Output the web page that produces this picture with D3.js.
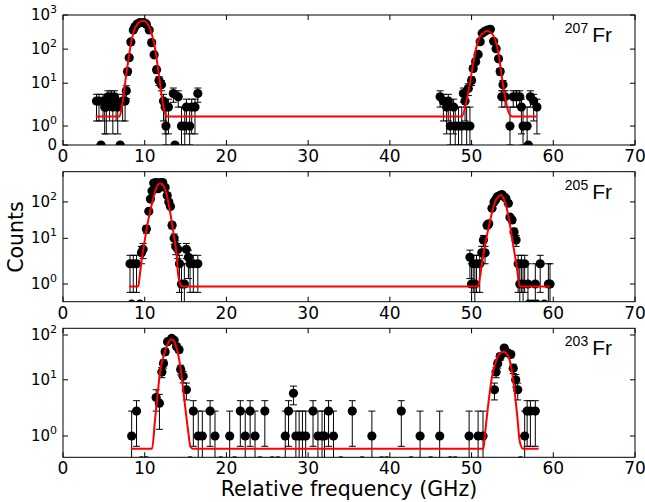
<!DOCTYPE html>
<html>
<head>
<meta charset="utf-8">
<script src="https://cdn.jsdelivr.net/npm/d3@7"></script>
<style>
  body { margin: 0; background: #fff; }
  svg { display: block; }
</style>
</head>
<body>
<svg width="645" height="502"></svg>
<script>
// ---- data (frequency in GHz, counts) ----
var fr207Freq = [4.1,4.4,4.65,4.9,5.1,5.3,5.5,5.7,5.9,6.1,6.3,6.5,6.7,7.0,7.3,7.6,7.75,7.9,8.1,8.3,8.6,8.8,9.05,9.4,9.9,10.2,10.55,10.85,11.15,11.45,11.75,12.05,12.3,12.5,12.6,12.9,13.5,13.7,14.1,14.5,14.9,15.1,15.5,15.75,16.15,16.5,
    46.15,46.55,46.95,47.15,47.4,47.8,48.0,48.4,48.8,49.0,49.2,49.4,49.6,49.8,50.0,50.2,50.5,50.8,51.05,51.3,51.6,51.95,52.3,52.7,53.0,53.3,53.5,53.7,53.85,54.1,54.7,55.1,55.5,55.9,56.1,56.3,56.8,56.95,57.2,57.6,58.0];
var fr207Counts = [3,3,0,3,2,2,4,3,4,2,4,3,2,0,3,3,6,22,56,162,363,450,540,596,600,540,363,155,68,25,12,9,3,2,1,2,5,0,4,1,1,2,1,2,2,5,
    4,3,2,3,1,2,1,1,1,5,3,1,7,1,12,27,43,70,165,292,330,363,380,170,103,52,22,4,9,4,1,4,4,4,2,1,1,0,4,3,2];
var fr207FitFreq = [4.0,6.9,7.2,7.6,8.0,8.4,8.8,9.2,9.6,9.9,10.2,10.6,10.9,11.3,11.7,12.1,12.4,12.8,
    48.8,49.4,49.8,50.2,50.6,51.0,51.4,51.9,52.3,52.9,53.3,53.7,54.1,54.5,55.0,58.0];
var fr207FitCounts = [1.5,1.5,2.0,10,48,184,410,575,660,680,620,420,260,94,20,4,1.8,1.5,
    1.5,3.2,10,38,118,232,292,339,313,184,76,15.5,4,1.76,1.5,1.5];

var fr205Freq = [8.2,8.4,8.6,9.0,9.4,9.6,9.8,10.2,10.5,10.7,10.9,11.1,11.4,11.65,11.9,12.2,12.5,12.75,12.95,13.15,13.35,13.6,13.8,14.05,14.25,14.5,14.85,15.1,15.35,15.55,15.95,16.5,
    49.8,50.0,50.2,50.4,50.6,51.0,51.25,51.45,51.65,51.9,52.1,52.5,52.75,52.95,53.15,53.45,53.7,53.95,54.2,54.5,54.7,54.95,55.2,55.45,55.7,55.9,56.1,56.3,56.5,56.9,57.0,57.5,57.8,58.0,58.4,58.9,59.4,59.6];
var fr205Counts = [2,0,2,2,0,4,5,18,55,120,200,330,340,230,340,340,250,150,100,75,23,10,6,5,2,1,1,5,3,2,2,2,
    3,1,2,1,2,2,4,9,4,23,25,67,100,115,138,150,160,140,126,92,38,32,15,9,2,1,2,1,2,1,0,0,1,0,2,0,1,1];
var fr205FitFreq = [8.1,9.2,9.4,9.6,10.0,10.4,10.85,11.26,11.67,11.87,12.28,12.7,13.1,13.5,13.9,14.1,14.5,14.8,
    50.8,51.0,51.25,51.65,52.06,52.47,52.88,53.3,53.6,53.9,54.3,54.7,55.1,55.5,55.9,56.2,59.6];
var fr205FitCounts = [0.87,0.87,1.44,2.29,8.6,28.9,82,190,306,320,280,153,54,15,3.6,1.44,0.9,0.87,
    0.87,1.28,1.93,6.5,18.8,48,101,138,155,126,67,23,6.5,1.93,0.9,0.87,0.87];

var fr203Freq = [8.4,9.0,9.6,10.2,11.4,11.8,12.1,12.3,12.5,12.8,13.3,13.6,13.9,14.2,14.4,14.7,15.1,15.55,15.95,16.55,17.05,18.0,18.6,19.3,20.4,21.0,21.7,22.3,22.9,23.5,24.1,24.7,25.6,26.3,27.2,27.6,28.2,28.5,28.9,29.3,29.7,30.6,31.2,31.7,32.0,32.5,33.1,34.0,35.4,36.6,37.8,39.0,39.6,41.4,42.6,43.7,45.0,46.1,47.4,48.0,49.7,50.8,51.4,
    52.8,53.0,53.2,53.5,54.0,54.4,54.8,55.1,55.4,55.65,56.0,56.5,56.8,57.2,57.8];
var fr203Counts = [1,2,0,0,4,3,15,23,42,71,84,76,55,47,17,12,6,0,2,1,1,2,1,0,1,0,2,1,2,1,0,2,0,0,1,2,5,1,1,1,1,2,1,1,1,2,1,0,2,0,1,0,0,2,0,1,0,1,0,0,1,1,1,
    6,15,23,33,51,40,37,18,10,6,0,1,2,2,2];
var fr203FitFreq = [8.3,10.9,11.26,11.55,11.9,12.3,12.7,13.2,13.5,13.9,14.3,14.6,14.9,15.3,15.6,15.9,
    51.45,51.65,52.06,52.47,52.9,53.3,53.9,54.4,54.8,55.2,55.6,55.9,56.3,58.2];
var fr203FitCounts = [0.49,0.49,1.65,4.2,16,33,55,80,77,51,23,9,3,1.24,0.57,0.49,
    0.49,1.1,3,10.8,23,36,42,36,21.4,7,1.77,0.77,0.49,0.49];

var xTicks = [0, 10, 20, 30, 40, 50, 60, 70];
var isotopes = ["207", "205", "203"];
var yDomains = [[0, 1000], [0.124, 676], [0.144, 141]];
var yTickValues = [[0, 1, 10, 100, 1000], [1, 10, 100], [1, 10, 100]];

// ---- layout ----
var svg = d3.select("svg");
var left = 63, right = 635;
var panelBox = [[15, 145], [171.7, 301.7], [328.3, 457.3]];

var x = d3.scaleLinear().domain([0, 70]).range([left, right]);

// matplotlib-style symlog (linthresh 2, linscale 1, base 10)
var linthresh = 2, linscaleAdj = 1 / (1 - 1 / 10);
function symlog(v) {
    return v <= linthresh ? v * linscaleAdj
        : linthresh * (linscaleAdj + Math.log10(v / linthresh));
}

var panels = [
    {freq: fr207Freq, counts: fr207Counts, fitFreq: fr207FitFreq, fitCounts: fr207FitCounts},
    {freq: fr205Freq, counts: fr205Counts, fitFreq: fr205FitFreq, fitCounts: fr205FitCounts},
    {freq: fr203Freq, counts: fr203Counts, fitFreq: fr203FitFreq, fitCounts: fr203FitCounts}
];

panels.forEach(function(p, i) {
    var top = panelBox[i][0], bottom = panelBox[i][1];
    var y = d3.scaleLinear()
        .domain([symlog(yDomains[i][0]), symlog(yDomains[i][1])])
        .range([bottom, top]);
    var yv = function(v) { return y(symlog(Math.max(v, 0))); };

    svg.append("clipPath").attr("id", "clip" + i)
        .append("rect")
        .attr("x", left).attr("y", top)
        .attr("width", right - left).attr("height", bottom - top);

    var g = svg.append("g").attr("clip-path", "url(#clip" + i + ")");
    var pts = p.freq.map(function(f, k) { return {f: f, n: p.counts[k]}; });

    // error bars (Poisson)
    var eb = g.append("g").attr("stroke", "#000").attr("stroke-width", 1);
    pts.forEach(function(d) {
        var e = Math.sqrt(d.n), cx = x(d.f);
        var y0 = yv(d.n - e), y1 = yv(d.n + e);
        eb.append("line").attr("x1", cx).attr("x2", cx).attr("y1", y0).attr("y2", y1);
        eb.append("line").attr("x1", cx - 3.5).attr("x2", cx + 3.5).attr("y1", y0).attr("y2", y0);
        eb.append("line").attr("x1", cx - 3.5).attr("x2", cx + 3.5).attr("y1", y1).attr("y2", y1);
    });

    g.selectAll("circle").data(pts).enter().append("circle")
        .attr("cx", function(d) { return x(d.f); })
        .attr("cy", function(d) { return yv(d.n); })
        .attr("r", 4.6)
        .attr("fill", "#000");

    // fit
    var fit = p.fitFreq.map(function(f, k) { return [f, p.fitCounts[k]]; });
    var line = d3.line()
        .x(function(d) { return x(d[0]); })
        .y(function(d) { return yv(d[1]); })
        .curve(d3.curveMonotoneX);
    g.append("path").datum(fit)
        .attr("d", line)
        .attr("fill", "none")
        .attr("stroke", "#ff0000")
        .attr("stroke-width", 2);

    // frame
    svg.append("rect")
        .attr("x", left).attr("y", top)
        .attr("width", right - left).attr("height", bottom - top)
        .attr("fill", "none").attr("stroke", "#000").attr("stroke-width", 1);

    // ticks pointing inward on all four sides
    var tk = svg.append("g").attr("stroke", "#000").attr("stroke-width", 1);
    xTicks.forEach(function(t) {
        tk.append("line").attr("x1", x(t)).attr("x2", x(t)).attr("y1", bottom).attr("y2", bottom - 5);
        tk.append("line").attr("x1", x(t)).attr("x2", x(t)).attr("y1", top).attr("y2", top + 5);
        svg.append("text")
            .attr("x", x(t)).attr("y", bottom + 17)
            .attr("text-anchor", "middle")
            .style("font", "17px 'DejaVu Sans'")
            .text(t);
    });
    yTickValues[i].forEach(function(t) {
        var ty = yv(t);
        tk.append("line").attr("x1", left).attr("x2", left + 5).attr("y1", ty).attr("y2", ty);
        tk.append("line").attr("x1", right).attr("x2", right - 5).attr("y1", ty).attr("y2", ty);
        var lab = svg.append("text")
            .attr("x", 57).attr("y", ty + 5)
            .attr("text-anchor", "end")
            .style("font", "15px 'DejaVu Sans'");
        if (t === 0) {
            lab.text("0");
        } else {
            lab.append("tspan").text("10");
            lab.append("tspan").attr("dy", -7).style("font-size", "11px")
                .text(Math.round(Math.log10(t)));
        }
    });

    // isotope label
    var iso = svg.append("text")
        .attr("x", 612).attr("y", top + 27)
        .attr("text-anchor", "end");
    iso.append("tspan").attr("dy", -9)
        .style("font", "14px 'Liberation Sans Narrow', 'Liberation Sans'")
        .text(isotopes[i]);
    iso.append("tspan").attr("dy", 9).attr("dx", 4)
        .style("font", "21px 'Liberation Sans'")
        .text("Fr");
});

svg.append("text")
    .attr("transform", "translate(23,237) rotate(-90)")
    .attr("text-anchor", "middle")
    .style("font", "20.5px 'DejaVu Sans'")
    .text("Counts");

svg.append("text")
    .attr("x", (left + right) / 2).attr("y", 496)
    .attr("text-anchor", "middle")
    .style("font", "20.5px 'DejaVu Sans'")
    .text("Relative frequency (GHz)");
</script>
</body>
</html>
